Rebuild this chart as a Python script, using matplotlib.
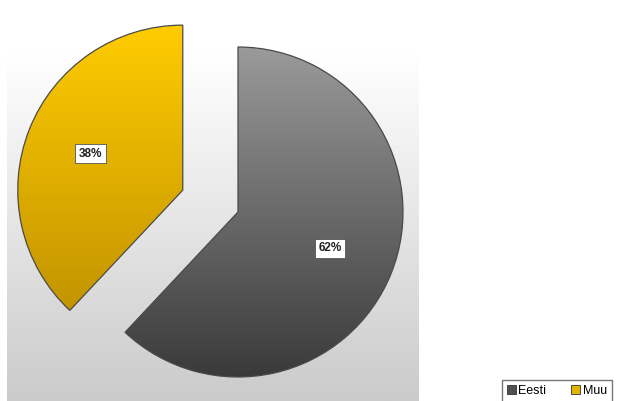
import numpy as np
from matplotlib import pyplot as plt
from matplotlib.colors import LinearSegmentedColormap
from matplotlib.patches import Patch

labels = ['Eesti', 'Muu']
shares = [62, 38]
explode = [0.0, 0.36]
# gradient colours (top, bottom) for each slice
grads = [('#9a9a9a', '#3a3a3a'), ('#ffcc00', '#c39400')]
legend_colors = ['#505050', '#e0b400']

W, H = 617, 401
fig = plt.figure(figsize=(W / 100, H / 100), dpi=100)

# plot-area background: white on top fading to light grey
bg = fig.add_axes([7 / W, 0, 412 / W, 349 / H])
bg.imshow(np.linspace(0, 1, 256).reshape(-1, 1), aspect='auto',
          cmap=LinearSegmentedColormap.from_list('bg', ['#ffffff', '#cbcbcb']),
          extent=[0, 1, 0, 1], origin='upper')
bg.set_axis_off()

# pie axes: radius 1 == 165 px, centre at (238, 189) px
r_px = 165
span = 1.5
side = 2 * span * r_px
ax = fig.add_axes([(238 - side / 2) / W, (189 - side / 2) / H, side / W, side / H])

wedges, texts, autotexts = ax.pie(
    shares, explode=explode, startangle=90, counterclock=False,
    autopct='%1.0f%%', pctdistance=0.6, radius=1,
    wedgeprops=dict(linewidth=0.9, edgecolor='#4a4a4a'),
    textprops=dict(fontsize=8.5, fontweight='bold', color='#222222',
                   family='Liberation Sans'))

for w, (c_top, c_bot) in zip(wedges, grads):
    bb = w.get_path().get_extents()
    cmap = LinearSegmentedColormap.from_list('g', [c_top, c_bot])
    im = ax.imshow(np.linspace(0, 1, 256).reshape(-1, 1), cmap=cmap,
                   extent=[bb.x0, bb.x1, bb.y0, bb.y1], origin='upper',
                   aspect='auto', zorder=1)
    im.set_clip_path(w)
    w.set_facecolor('none')
    w.set_zorder(2)

for t in autotexts:
    t.set_zorder(4)
    t.set_bbox(dict(facecolor='white', edgecolor='#555555', linewidth=0.6,
                    boxstyle='square,pad=0.3'))

ax.set_xlim(-span, span)
ax.set_ylim(-span, span)
ax.set_aspect('equal')
ax.set_axis_off()

handles = [Patch(facecolor=c, edgecolor='#333333', linewidth=0.6) for c in legend_colors]
fig.legend(handles, labels, loc='upper left', bbox_to_anchor=(502 / W, 21 / H),
           ncol=2, frameon=True, fancybox=False, edgecolor='#555555',
           prop=dict(family='Liberation Sans', size=9),
           handlelength=0.7, handleheight=0.7, handletextpad=0.2,
           columnspacing=2.0, borderpad=0.4, borderaxespad=0)

fig.savefig('out.png', dpi=100, facecolor='white')
